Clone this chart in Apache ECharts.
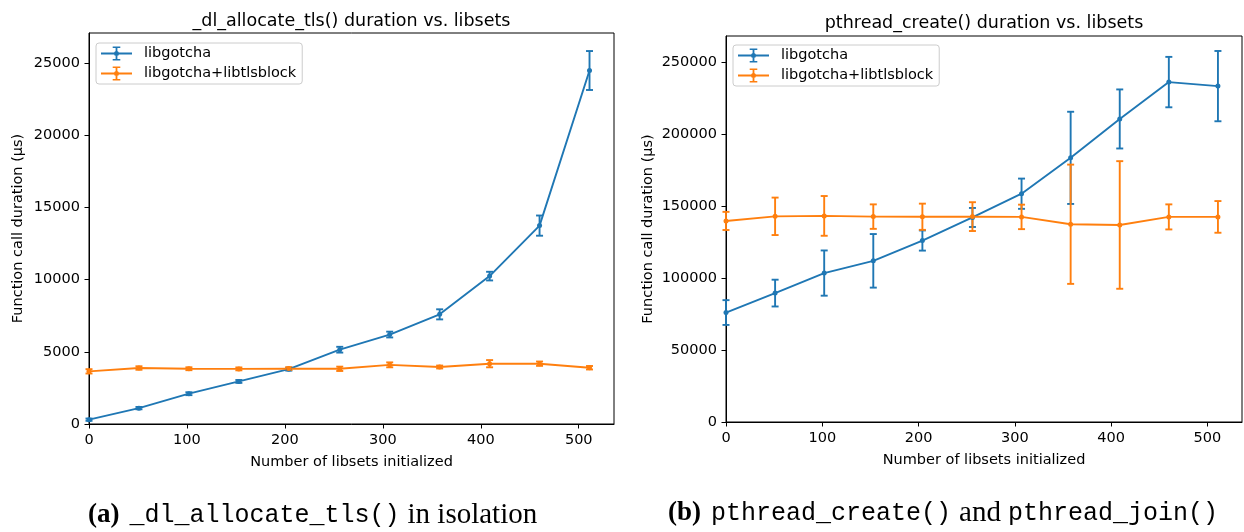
<!DOCTYPE html>
<html>
<head>
<meta charset="utf-8">
<script src="https://cdn.jsdelivr.net/npm/echarts@6/dist/echarts.min.js"></script>
<style>
html,body{margin:0;padding:0;background:#fff;}
#chart{width:1244px;height:532px;}
</style>
</head>
<body>
<div id="chart"></div>
<script>
// ---------- data ----------
const xValues = [0, 51, 102, 153, 204, 256, 307, 358, 409, 460, 511];
const xTicks = [0, 100, 200, 300, 400, 500];

// (a) _dl_allocate_tls()
const aTicksY = [0, 5000, 10000, 15000, 20000, 25000];
const aGotchaMean = [300, 1100, 2100, 2950, 3800, 5150, 6200, 7600, 10250, 13750, 24500];
const aGotchaErr  = [80, 80, 100, 100, 100, 200, 200, 350, 300, 700, 1350];
const aTlsMean    = [3650, 3880, 3830, 3820, 3840, 3825, 4100, 3950, 4180, 4180, 3900];
const aTlsErr     = [150, 120, 100, 100, 100, 150, 170, 100, 250, 150, 120];

// (b) pthread_create()
const bTicksY = [0, 50000, 100000, 150000, 200000, 250000];
const bGotchaMean = [76000, 89500, 103400, 111900, 126000, 142000, 158500, 183400, 210400, 236000, 233200];
const bGotchaErr  = [8600, 9300, 15700, 18600, 7000, 6600, 10500, 32000, 20500, 17500, 24400];
const bTlsMean    = [139600, 142800, 143100, 142600, 142500, 142600, 142400, 137300, 136800, 142400, 142400];
const bTlsErr     = [6300, 13000, 13800, 8500, 9100, 10000, 8500, 41400, 44300, 8700, 11000];

const seriesNames = ['libgotcha', 'libgotcha+libtlsblock'];
const colors = ['#1f77b4', '#ff7f0e'];

// ---------- helpers ----------
const pts = (m) => xValues.map((x, i) => [x, m[i]]);
const errs = (m, e) => xValues.map((x, i) => [x, m[i] - e[i], m[i] + e[i]]);

function renderErr(params, api) {
  const x = api.value(0), lo = api.value(1), hi = api.value(2);
  const p1 = api.coord([x, hi]), p2 = api.coord([x, lo]);
  const style = { stroke: api.visual('color'), lineWidth: 1.9, fill: null };
  const c = 3.5;
  return {
    type: 'group',
    children: [
      { type: 'line', shape: { x1: p1[0], y1: p1[1], x2: p2[0], y2: p2[1] }, style: style },
      { type: 'line', shape: { x1: p1[0] - c, y1: p1[1], x2: p1[0] + c, y2: p1[1] }, style: style },
      { type: 'line', shape: { x1: p2[0] - c, y1: p2[1], x2: p2[0] + c, y2: p2[1] }, style: style }
    ]
  };
}

const FONT = 'DejaVu Sans';
const AX = '#000';
const FS = 14.5;

function makeX(gi) {
  return {
    type: 'value', gridIndex: gi, min: 0, max: 536,
    name: 'Number of libsets initialized', nameLocation: 'middle', nameGap: 31,
    nameTextStyle: { fontFamily: FONT, fontSize: FS, color: '#000' },
    axisLine: { show: true, onZero: false, lineStyle: { color: AX, width: 1 } },
    axisTick: { show: true, length: 4.5, customValues: xTicks, lineStyle: { color: AX, width: 1 } },
    axisLabel: { customValues: xTicks, fontFamily: FONT, fontSize: FS, color: '#000', margin: 9,
      formatter: v => String(v) },
    splitLine: { show: false }
  };
}
function makeY(gi, max, ticks, gap) {
  return {
    type: 'value', gridIndex: gi, min: 0, max: max,
    name: 'Function call duration (μs)', nameLocation: 'middle', nameGap: gap, nameRotate: 90,
    nameTextStyle: { fontFamily: FONT, fontSize: FS, color: '#000' },
    axisLine: { show: true, onZero: false, lineStyle: { color: AX, width: 1 } },
    axisTick: { show: true, length: 4.5, customValues: ticks, lineStyle: { color: AX, width: 1 } },
    axisLabel: { customValues: ticks, fontFamily: FONT, fontSize: FS, color: '#000', margin: 9,
      formatter: v => String(v) },
    splitLine: { show: false }
  };
}

const ICON = 'path://M0,6.1L31,6.1L31,7.9L0,7.9Z M14.6,0L16.4,0L16.4,14L14.6,14Z M11.7,0L19.3,0L19.3,1.6L11.7,1.6Z M11.7,12.4L19.3,12.4L19.3,14L11.7,14Z M18,7A2.5,2.5 0 1,1 13,7A2.5,2.5 0 1,1 18,7Z';

function makeLegend(left, top) {
  return {
    orient: 'vertical', left: left, top: top,
    data: seriesNames.map(n => ({ name: n, icon: ICON })),
    itemWidth: 31, itemHeight: 14, itemGap: 5,
    padding: [3, 6, 3, 5],
    borderColor: '#cccccc', borderWidth: 1, borderRadius: 3,
    backgroundColor: 'rgba(255,255,255,0.8)',
    itemStyle: { borderWidth: 0 },
    textStyle: { fontFamily: FONT, fontSize: FS, color: '#000', padding: [0, 0, 0, 7] },
    selectedMode: false
  };
}

function lineSeries(name, data, color, xi) {
  return {
    type: 'line', name: name, data: data, xAxisIndex: xi, yAxisIndex: xi,
    symbol: 'circle', symbolSize: 5, showSymbol: true,
    itemStyle: { color: color, borderWidth: 0 },
    lineStyle: { color: color, width: 1.9 },
    z: 3
  };
}
function errSeries(name, data, color, xi) {
  return {
    type: 'custom', name: name, data: data, xAxisIndex: xi, yAxisIndex: xi,
    renderItem: renderErr, encode: { x: 0, y: [1, 2] },
    itemStyle: { color: color }, z: 2
  };
}

const captionRich = {
  b: { fontFamily: 'Liberation Serif', fontWeight: 'bold', fontSize: 27, fill: '#000', padding: [0, 10, 0, 0] },
  m: { fontFamily: 'Liberation Mono', fontSize: 25, fill: '#000' },
  s: { fontFamily: 'Liberation Serif', fontSize: 29, fill: '#000', padding: [0, 7, 0, 8] }
};

const chart = echarts.init(document.getElementById('chart'), null, { renderer: 'canvas' });
chart.setOption({
  animation: false,
  backgroundColor: '#fff',
  title: [
    { text: '_dl_allocate_tls() duration vs. libsets', left: 351.5, top: 12, textAlign: 'center', padding: 0,
      textStyle: { fontFamily: FONT, fontSize: 17.5, fontWeight: 'normal', color: '#000' } },
    { text: 'pthread_create() duration vs. libsets', left: 984, top: 14, textAlign: 'center', padding: 0,
      textStyle: { fontFamily: FONT, fontSize: 17.5, fontWeight: 'normal', color: '#000' } }
  ],
  grid: [
    { left: 89, right: 630, top: 33, bottom: 108, show: true, borderColor: '#000', borderWidth: 1, backgroundColor: 'transparent', containLabel: false },
    { left: 726, right: 2, top: 36, bottom: 110, show: true, borderColor: '#000', borderWidth: 1, backgroundColor: 'transparent', containLabel: false }
  ],
  xAxis: [makeX(0), makeX(1)],
  yAxis: [makeY(0, 27100, aTicksY, 63), makeY(1, 268000, bTicksY, 70)],
  legend: [makeLegend(96, 43), makeLegend(733, 45)],
  series: [
    errSeries(seriesNames[0], errs(aGotchaMean, aGotchaErr), colors[0], 0),
    lineSeries(seriesNames[0], pts(aGotchaMean), colors[0], 0),
    errSeries(seriesNames[1], errs(aTlsMean, aTlsErr), colors[1], 0),
    lineSeries(seriesNames[1], pts(aTlsMean), colors[1], 0),
    errSeries(seriesNames[0], errs(bGotchaMean, bGotchaErr), colors[0], 1),
    lineSeries(seriesNames[0], pts(bGotchaMean), colors[0], 1),
    errSeries(seriesNames[1], errs(bTlsMean, bTlsErr), colors[1], 1),
    lineSeries(seriesNames[1], pts(bTlsMean), colors[1], 1)
  ],
  graphic: [
    { type: 'text', left: 88, top: 501, style: {
        text: '{b|(a)}{m|_dl_allocate_tls()}{s|in isolation}', rich: captionRich } },
    { type: 'text', left: 668, top: 499, style: {
        text: '{b|(b)}{m|pthread_create()}{s|and}{m|pthread_join()}', rich: captionRich } }
  ]
});
</script>
</body>
</html>
